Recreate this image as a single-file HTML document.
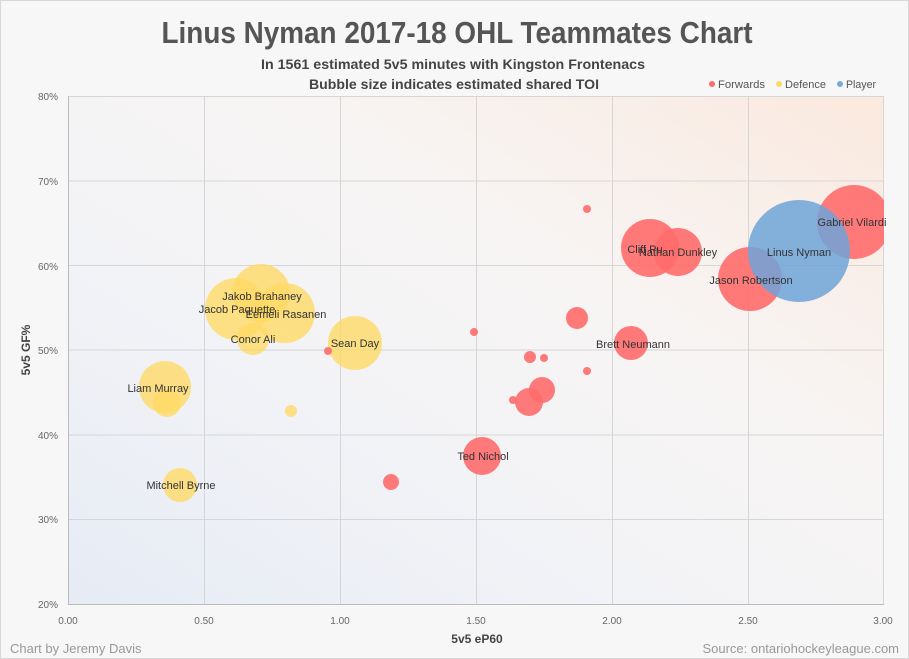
<!DOCTYPE html>
<html><head><meta charset="utf-8"><style>
html,body{margin:0;padding:0;background:#f7f7f7;}
svg{display:block;}
text{font-family:"Liberation Sans",sans-serif;}
</style></head><body>
<svg width="909" height="659" viewBox="0 0 909 659" xmlns="http://www.w3.org/2000/svg">
<defs>
<linearGradient id="bg" x1="0" y1="1" x2="1" y2="0">
<stop offset="0" stop-color="#e6ebf4"/>
<stop offset="0.35" stop-color="#f2f3f7"/>
<stop offset="0.65" stop-color="#f8f4f3"/>
<stop offset="1" stop-color="#fae9de"/>
</linearGradient>
<clipPath id="pc"><rect x="68" y="96" width="816" height="508"/></clipPath>
</defs>
<rect x="0.5" y="0.5" width="908" height="658" fill="#f7f7f7" stroke="#d8d8d8"/>
<text x="457" y="43" text-anchor="middle" font-size="31" font-weight="bold" fill="#555" textLength="591" lengthAdjust="spacingAndGlyphs">Linus Nyman 2017-18 OHL Teammates Chart</text>
<text x="453" y="69" text-anchor="middle" font-size="14" font-weight="bold" fill="#444" textLength="384" lengthAdjust="spacingAndGlyphs">In 1561 estimated 5v5 minutes with Kingston Frontenacs</text>
<text x="454" y="89" text-anchor="middle" font-size="14" font-weight="bold" fill="#444" textLength="290" lengthAdjust="spacingAndGlyphs">Bubble size indicates estimated shared TOI</text>
<circle cx="712" cy="84" r="3" fill="#ff6b6b"/><text x="718" y="88" font-size="11" fill="#555" textLength="47" lengthAdjust="spacingAndGlyphs">Forwards</text>
<circle cx="779" cy="84" r="3" fill="#ffd966"/><text x="785" y="88" font-size="11" fill="#555" textLength="41" lengthAdjust="spacingAndGlyphs">Defence</text>
<circle cx="840" cy="84" r="3" fill="#7aa9d8"/><text x="846" y="88" font-size="11" fill="#555" textLength="30" lengthAdjust="spacingAndGlyphs">Player</text>
<rect x="68" y="96" width="816" height="508" fill="url(#bg)"/>
<g stroke="#d6d6d6" stroke-width="1">
<line x1="68" y1="181" x2="884" y2="181"/><line x1="68" y1="265.5" x2="884" y2="265.5"/>
<line x1="68" y1="350" x2="884" y2="350"/><line x1="68" y1="435" x2="884" y2="435"/>
<line x1="68" y1="519.5" x2="884" y2="519.5"/><line x1="68" y1="96.5" x2="884" y2="96.5"/>
<line x1="204.5" y1="96" x2="204.5" y2="604"/><line x1="340.5" y1="96" x2="340.5" y2="604"/>
<line x1="476.5" y1="96" x2="476.5" y2="604"/><line x1="612.5" y1="96" x2="612.5" y2="604"/>
<line x1="748.5" y1="96" x2="748.5" y2="604"/><line x1="883.5" y1="96" x2="883.5" y2="604"/>
</g>
<line x1="68.5" y1="96" x2="68.5" y2="604" stroke="#bbb"/>
<line x1="68" y1="604.5" x2="884" y2="604.5" stroke="#bbb"/>
<g font-size="10" fill="#666" text-anchor="end">
<text x="58" y="100">80%</text><text x="58" y="185">70%</text><text x="58" y="270">60%</text>
<text x="58" y="354">50%</text><text x="58" y="439">40%</text><text x="58" y="523">30%</text><text x="58" y="608">20%</text>
</g>
<g font-size="10" fill="#666" text-anchor="middle">
<text x="68" y="624">0.00</text><text x="204" y="624">0.50</text><text x="340" y="624">1.00</text>
<text x="476" y="624">1.50</text><text x="612" y="624">2.00</text><text x="748" y="624">2.50</text><text x="883" y="624">3.00</text>
</g>
<text x="477" y="643" text-anchor="middle" font-size="12" font-weight="bold" fill="#444">5v5 eP60</text>
<text transform="translate(30,350) rotate(-90)" text-anchor="middle" font-size="12" font-weight="bold" fill="#444">5v5 GF%</text>
<text x="10" y="653" font-size="13" fill="#999">Chart by Jeremy Davis</text>
<text x="899" y="653" text-anchor="end" font-size="13" fill="#999">Source: ontariohockeyleague.com</text>
<g clip-path="url(#pc)">
<g fill="#ffd966" fill-opacity="0.8">
<circle cx="236" cy="309" r="31"/><circle cx="261" cy="293" r="29"/><circle cx="285" cy="313" r="30"/>
<circle cx="253" cy="339" r="16"/><circle cx="355" cy="343" r="27"/><circle cx="165" cy="387" r="26"/>
<circle cx="167" cy="403" r="14"/><circle cx="291" cy="411" r="6"/><circle cx="180" cy="485" r="17"/>
</g>
<g fill="#ff6b6b" fill-opacity="0.9">
<circle cx="854" cy="222" r="37"/><circle cx="750" cy="279" r="32"/>
<circle cx="650" cy="248" r="29"/><circle cx="678" cy="252" r="24"/>
<circle cx="631" cy="343" r="17"/><circle cx="587" cy="209" r="4"/><circle cx="577" cy="318" r="11"/>
<circle cx="542" cy="390" r="13"/><circle cx="529" cy="402" r="14"/><circle cx="513" cy="400" r="4"/>
<circle cx="530" cy="357" r="6"/><circle cx="544" cy="358" r="4"/><circle cx="587" cy="371" r="4"/>
<circle cx="474" cy="332" r="4"/><circle cx="482" cy="456" r="19"/><circle cx="391" cy="482" r="8"/>
<circle cx="328" cy="351" r="4"/>
</g>
<circle cx="799" cy="251" r="51" fill="#6fa3d8" fill-opacity="0.85"/>
</g>
<g font-size="11" fill="#333" text-anchor="middle">
<text x="262" y="300">Jakob Brahaney</text><text x="237" y="313">Jacob Paquette</text>
<text x="286" y="318">Eemeli Rasanen</text><text x="253" y="343">Conor Ali</text>
<text x="355" y="347">Sean Day</text><text x="158" y="392">Liam Murray</text>
<text x="181" y="489">Mitchell Byrne</text><text x="483" y="460">Ted Nichol</text>
<text x="633" y="348">Brett Neumann</text><text x="645" y="253">Cliff Pu</text>
<text x="678" y="256">Nathan Dunkley</text><text x="751" y="284">Jason Robertson</text>
<text x="799" y="256">Linus Nyman</text><text x="852" y="226">Gabriel Vilardi</text>
</g>
</svg>
</body></html>
